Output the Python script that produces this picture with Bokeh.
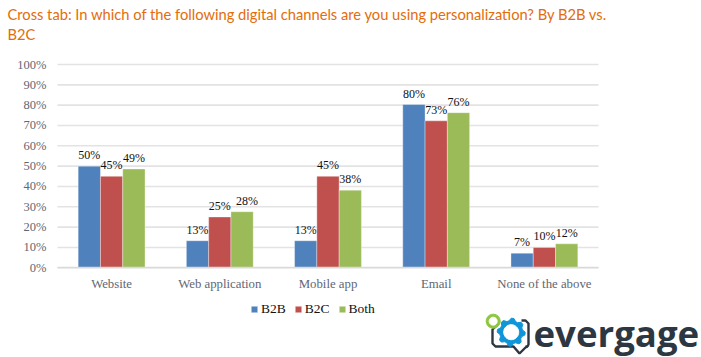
import numpy as np
from bokeh.core.properties import value
from bokeh.embed import file_html
from bokeh.models import (ColumnDataSource, FixedTicker, Legend, LegendItem,
                          PrintfTickFormatter, Range1d)
from bokeh.plotting import figure
from bokeh.resources import INLINE

categories = ["Website", "Web application", "Mobile app", "Email", "None of the above"]
b2b = [50, 13.3, 13.3, 80.3, 7.2]
b2c = [45, 25, 45, 72.3, 10]
both = [48.6, 27.6, 38.2, 76.3, 11.8]
b2b_labels = ["50%", "13%", "13%", "80%", "7%"]
b2c_labels = ["45%", "25%", "45%", "73%", "10%"]
both_labels = ["49%", "28%", "38%", "76%", "12%"]
y_ticks = list(range(0, 101, 10))
title_lines = ["Cross tab: In which of the following digital channels are you using "
               "personalization? By B2B vs.", "B2C"]
logo_word = "evergage"

BODY = "Liberation Serif"
W, H = 701, 357
LEFT, RIGHT, TOP, BOTTOM = 57, 598, 64, 267.3   # plot area in page pixels
cat_px = (RIGHT - LEFT) / len(categories)
val_px = (BOTTOM - TOP) / 100

p = figure(width=W, height=H,
           x_range=Range1d(-LEFT / cat_px, (W - LEFT) / cat_px),
           y_range=Range1d(-(H - BOTTOM) / val_px, 100 + TOP / val_px),
           output_backend="svg", toolbar_location=None, min_border=0,
           outline_line_color=None, background_fill_color="white", border_fill_color="white")
# second pair of ranges: page pixels, for the title and the logo
p.extra_x_ranges = {"px": Range1d(0, W)}
p.extra_y_ranges = {"px": Range1d(H, 0)}

centers = [i + 0.5 for i in range(len(categories))]

p.grid.visible = False
p.segment(x0=[0] * len(y_ticks), x1=[len(categories)] * len(y_ticks), y0=y_ticks, y1=y_ticks,
          line_color="#e3e3e3", line_width=1.6)

p.yaxis.fixed_location = 0
p.yaxis.ticker = FixedTicker(ticks=y_ticks)
p.yaxis.formatter = PrintfTickFormatter(format="%d%%")
p.yaxis.axis_line_color = None
p.yaxis.major_tick_line_color = None
p.yaxis.minor_tick_line_color = None
p.yaxis.major_label_standoff = 5
p.yaxis.major_label_text_font = BODY
p.yaxis.major_label_text_font_size = "12.5px"
p.yaxis.major_label_text_color = "#5f6673"

p.xaxis.fixed_location = 0
p.xaxis.bounds = (0, len(categories))
p.xaxis.ticker = FixedTicker(ticks=centers)
p.xaxis.major_label_overrides = dict(zip(centers, categories))
p.xaxis.axis_line_color = "#d9d9d9"
p.xaxis.axis_line_width = 1.5
p.xaxis.major_tick_line_color = None
p.xaxis.minor_tick_line_color = None
p.xaxis.major_label_standoff = 3
p.xaxis.major_label_text_font = BODY
p.xaxis.major_label_text_font_size = "12.8px"
p.xaxis.major_label_text_color = "#5f6673"

series = [("B2B", b2b, b2b_labels, "#4f81bd", -0.206),
          ("B2C", b2c, b2c_labels, "#c0504d", 0.0),
          ("Both", both, both_labels, "#9bbb59", 0.206)]
items = []
for name, vals, labs, col, off in series:
    src = ColumnDataSource(dict(x=[c + off for c in centers], val=vals, lab=labs,
                                dx=[5 if s == "28%" else 0 for s in labs]))
    r = p.vbar(x="x", top="val", bottom=0, width=0.206, source=src,
               fill_color=col, line_color="white", line_alpha=0.35, line_width=1)
    p.text(x="x", y="val", text="lab", source=src,
           x_offset="dx", y_offset=-11, text_align="center", text_baseline="middle",
           text_font=value(BODY), text_font_size="12px", text_color="#111111")
    items.append(LegendItem(label=name, renderers=[r]))

legend = Legend(items=items, orientation="horizontal", location=(250, H - 317), padding=0, margin=0,
                spacing=8, glyph_width=8, glyph_height=8, label_standoff=3,
                label_text_font=BODY, label_text_font_size="13.5px", label_text_color="#111111",
                background_fill_alpha=0, border_line_color=None)
p.add_layout(legend, "center")

# title, in page pixels
p.text(x=[7, 7], y=[13, 33], text=title_lines, x_range_name="px", y_range_name="px",
       text_font=value("Lato"), text_font_size="14.7px", text_color="#e46c0a",
       text_baseline="middle")


# decorative Evergage logo, in page pixels
def gear(cx, cy, r_out, r_root, teeth, color, r_in):
    t = np.linspace(0, 2 * np.pi, teeth * 4, endpoint=False)
    r = np.where(np.arange(teeth * 4) % 4 < 2, r_out, r_root)
    p.patch(cx + r * np.cos(t), cy + r * np.sin(t), fill_color=color, line_color=color,
            x_range_name="px", y_range_name="px")
    t2 = np.linspace(0, 2 * np.pi, 32, endpoint=False)
    p.patch(cx + r_in * np.cos(t2), cy + r_in * np.sin(t2), fill_color="white", line_color="white",
            x_range_name="px", y_range_name="px")


p.line([495, 492, 492, 495, 513, 519, 525, 527], [326, 329, 343, 346, 346, 353, 347, 346],
       line_color="#2d3741", line_width=2.4, x_range_name="px", y_range_name="px")
p.line([525, 527, 528, 528, 525, 521], [346, 346, 344, 323, 320, 320],
       line_color="#2d3741", line_width=2.4, x_range_name="px", y_range_name="px")
gear(510.7, 331.7, 14, 11.5, 8, "#0f96d8", 7.5)
gear(492.7, 320.7, 7, 7, 6, "#8dc63f", 4)
p.text(x=[533], y=[332], text=[logo_word], x_range_name="px", y_range_name="px",
       text_font=value("Open Sans"), text_font_style="bold", text_font_size="36.6px",
       text_color="#2d3741", text_baseline="alphabetic")

open("out.html", "w").write(file_html(p, INLINE))
